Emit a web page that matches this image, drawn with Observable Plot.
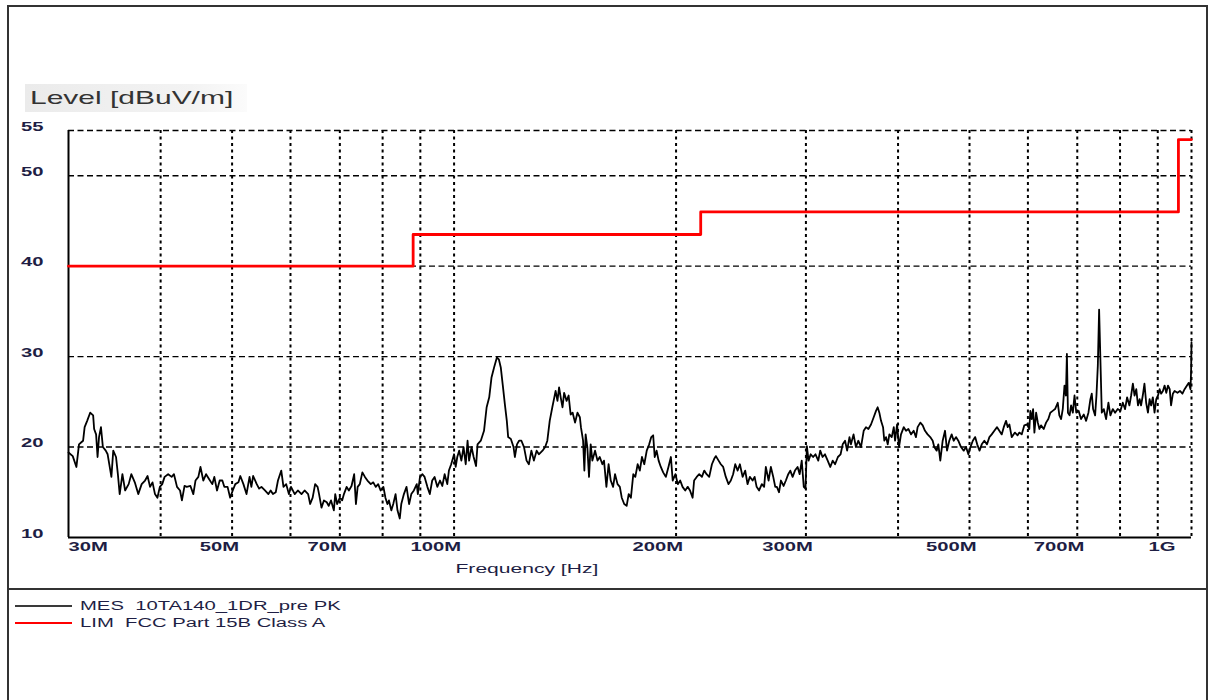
<!DOCTYPE html>
<html><head><meta charset="utf-8">
<script src="https://cdn.jsdelivr.net/npm/d3@7"></script>
<script src="https://cdn.jsdelivr.net/npm/@observablehq/plot@0.6"></script>
<style>
body{margin:0;background:#fff;font-family:"Liberation Sans",Arial,sans-serif;}
#wrap{position:relative;width:1210px;height:700px;overflow:hidden;background:#fff;}
#chart{position:absolute;left:0;top:0;}
.border{position:absolute;background:#333;}
.stretch{position:absolute;transform:scaleX(1.62);transform-origin:0 50%;white-space:pre;line-height:1;}
#title{left:25px;top:84px;width:222px;height:28px;position:absolute;background:linear-gradient(to right,#ebebeb,#f3f3f3 75%,#fbfbfb);}
</style></head><body>
<div id="wrap">
  <div id="title"></div>
  <div id="chart"></div>
  <div class="border" style="left:7px;top:5px;width:2px;height:695px"></div>
  <div class="border" style="left:7px;top:5px;width:1201px;height:1.5px"></div>
  <div class="border" style="left:1206px;top:5px;width:2px;height:695px"></div>
  <div class="border" style="left:7px;top:588px;width:1201px;height:2px"></div>
  <div id="legend"></div>
</div>
<script>
// ---- data ----
const yTicks = [10, 20, 30, 40, 50, 55];
const hGrid = [20, 30, 40, 50, 55];
const vGrid = [40, 50, 60, 70, 80, 90, 100, 200, 300, 400, 500, 600, 700, 800, 900, 1000];
const xTicks = [30, 50, 70, 100, 200, 300, 500, 700, 1000];
const xTickLabels = ["30M", "50M", "70M", "100M", "200M", "300M", "500M", "700M", "1G"];
const yTitle = "Level [dBuV/m]";
const xTitle = "Frequency [Hz]";
const legendLabels = ["MES  10TA140_1DR_pre PK", "LIM  FCC Part 15B Class A"];
const legendColors = ["#3a3a3a", "#ff0000"];

// limit line (MHz, dBuV/m)
const limFreq = [30, 88, 88, 216, 216, 960, 960, 1000];
const limLevel = [40, 40, 43.5, 43.5, 46, 46, 54, 54];

// measured trace [MHz, dBuV/m]
const measured = [
[30.0,19.4],[30.4,19.0],[30.75,17.8],[31.0,20.3],[31.2,20.5],[31.4,20.7],[31.55,22.2],[31.8,22.9],[32.1,23.8],[32.4,23.5],
[32.5,22.0],[32.7,21.4],[32.85,18.9],[33.0,21.1],[33.2,22.2],[33.4,20.0],[33.7,19.6],[33.9,19.2],[34.3,16.7],[34.5,19.6],
[34.8,18.9],[35.0,17.0],[35.2,14.8],[35.5,17.0],[35.8,15.2],[36.2,15.9],[36.5,17.0],[36.9,16.1],[37.3,14.8],[37.7,15.9],
[38.1,16.3],[38.4,16.8],[38.7,15.6],[39.0,16.1],[39.3,14.8],[39.6,14.4],[39.9,15.6],[40.2,15.9],[40.5,16.7],[40.95,17.0],
[41.4,16.7],[41.7,17.0],[42.1,15.6],[42.5,15.2],[42.75,14.1],[43.1,15.7],[43.4,15.6],[43.9,15.7],[44.3,14.8],[44.6,16.3],
[45.0,16.7],[45.3,17.8],[45.7,16.3],[46.1,17.0],[46.5,16.5],[47.0,15.9],[47.3,16.7],[47.7,15.2],[48.1,16.3],[48.5,16.3],
[48.8,15.6],[49.3,15.6],[49.7,14.4],[50.1,15.2],[50.5,15.9],[51.0,16.1],[51.3,16.8],[51.8,15.9],[52.3,14.8],[52.8,16.7],
[53.1,15.6],[53.4,16.8],[54.0,15.9],[54.4,15.4],[54.8,15.6],[55.4,15.2],[56.0,14.8],[56.4,15.2],[56.8,14.8],[57.3,15.0],
[57.7,16.3],[58.3,17.4],[58.7,15.6],[59.2,15.9],[59.7,14.8],[60.1,15.6],[60.8,14.8],[61.4,15.2],[62.1,14.8],[62.7,15.2],
[63.4,14.8],[63.8,13.7],[64.3,14.4],[64.8,15.9],[65.3,15.6],[65.6,14.8],[66.1,13.3],[66.6,14.1],[67.2,13.9],[67.6,13.5],
[68.1,14.1],[68.7,13.0],[69.0,14.8],[69.4,13.7],[70.0,14.4],[70.5,14.1],[70.9,14.8],[71.5,15.6],[72.0,15.2],[72.6,15.7],
[73.2,17.0],[73.6,13.7],[74.0,15.6],[74.5,15.9],[75.1,17.2],[75.7,16.7],[76.3,16.3],[77.1,15.9],[77.7,16.1],[78.3,15.6],
[78.9,15.9],[79.5,15.2],[80.2,15.6],[80.7,14.4],[81.2,13.7],[81.6,14.1],[82.2,13.0],[82.7,13.7],[83.3,14.8],[83.8,13.0],
[84.4,12.1],[84.8,13.7],[85.5,14.8],[86.2,15.6],[86.9,13.7],[87.5,14.8],[88.2,15.2],[89.0,15.9],[89.3,14.8],[89.9,16.7],
[90.6,17.0],[91.2,16.7],[92.0,15.6],[92.7,14.8],[93.4,16.3],[94.1,16.7],[94.9,15.6],[95.7,16.3],[96.4,15.7],[97.1,17.0],
[97.9,15.9],[98.4,17.4],[99.1,18.1],[100.0,19.2],[100.5,17.8],[101.0,18.9],[101.6,19.6],[102.3,18.5],[103.0,20.0],[103.7,18.1],
[104.3,20.7],[104.8,18.5],[105.6,20.0],[106.3,18.9],[107.1,17.9],[107.6,20.3],[108.7,20.7],[109.8,21.8],[110.7,24.4],[111.6,25.5],
[112.4,27.7],[113.3,28.8],[114.3,29.9],[115.0,29.7],[115.7,28.8],[116.4,26.9],[117.2,24.7],[117.9,22.9],[118.4,21.1],[119.4,20.9],
[120.4,20.0],[120.9,18.9],[121.7,20.3],[122.5,20.7],[123.4,20.7],[124.4,20.0],[125.4,18.5],[126.3,18.1],[127.3,19.6],[128.3,18.5],
[129.4,19.6],[130.3,19.2],[131.8,19.6],[132.9,20.0],[133.8,20.7],[134.8,22.9],[135.9,24.4],[136.6,25.3],[137.3,26.2],[138.1,25.1],
[138.8,26.6],[139.5,25.5],[140.3,24.4],[141.0,26.0],[142.1,25.1],[143.0,25.7],[143.9,23.6],[144.8,23.8],[145.9,22.7],[147.0,23.8],
[148.1,23.3],[148.6,22.2],[149.6,20.7],[150.2,17.4],[150.8,21.4],[151.6,20.0],[152.4,16.7],[153.2,20.3],[154.0,18.5],[155.3,19.6],
[156.5,18.5],[157.6,18.9],[158.9,18.1],[159.7,18.5],[160.9,15.6],[162.0,18.1],[163.1,16.3],[164.3,15.6],[165.3,17.0],[166.6,15.9],
[167.8,15.6],[168.8,14.4],[170.1,13.7],[171.4,13.5],[172.5,14.8],[173.7,14.4],[175.0,17.0],[176.1,16.7],[177.4,18.1],[178.6,17.4],
[179.8,18.9],[181.1,18.1],[182.5,19.6],[183.9,20.3],[185.1,21.1],[186.2,21.3],[187.1,18.9],[188.2,19.6],[189.4,18.5],[190.7,17.8],
[192.1,17.2],[193.7,16.7],[195.3,17.8],[196.8,18.9],[197.9,16.3],[199.6,17.0],[201.1,15.9],[202.6,16.3],[204.1,15.6],[205.8,15.2],
[207.4,15.6],[208.9,15.2],[210.6,14.4],[211.6,16.3],[213.3,16.7],[215.0,17.0],[216.8,16.7],[218.4,17.4],[220.0,17.0],[221.8,16.7],
[223.7,18.1],[225.3,18.7],[226.5,19.0],[228.4,18.5],[230.0,18.1],[231.7,17.8],[233.6,16.7],[235.6,15.9],[237.3,16.3],[239.0,17.0],
[240.6,18.1],[242.4,17.4],[244.1,18.1],[246.2,16.7],[248.2,17.4],[250.0,15.9],[251.8,16.7],[254.0,16.3],[255.6,16.7],[257.2,15.6],
[259.2,15.2],[261.4,15.9],[263.3,15.6],[264.7,17.8],[267.0,16.3],[268.9,17.8],[270.9,16.7],[272.6,15.6],[274.0,15.6],[275.8,15.0],
[277.5,16.3],[279.8,15.7],[281.8,16.3],[283.9,17.0],[285.7,17.4],[287.8,16.7],[289.9,17.4],[292.3,17.8],[294.2,17.0],[296.1,18.5],
[298.0,15.6],[299.6,15.4],[300.9,20.1],[302.5,18.5],[304.5,19.2],[306.8,18.9],[309.1,19.2],[311.8,18.5],[313.7,19.6],[316.0,18.9],
[318.4,19.2],[321.1,18.5],[323.7,17.8],[326.2,18.5],[328.6,18.1],[331.5,18.9],[334.3,19.2],[336.5,20.3],[339.0,20.7],[341.2,19.6],
[343.7,21.1],[345.3,20.3],[348.1,21.4],[350.7,20.0],[353.3,20.7],[356.3,20.0],[359.3,21.8],[361.9,22.2],[364.6,22.0],[367.6,22.5],
[370.7,23.3],[373.4,24.0],[375.3,24.4],[377.3,23.8],[379.3,22.9],[381.7,22.2],[383.2,20.7],[385.3,21.1],[387.3,20.3],[389.3,21.4],
[392.2,21.1],[394.7,22.2],[396.3,20.7],[398.8,22.5],[401.2,20.0],[403.7,21.4],[407.2,22.2],[410.1,21.8],[413.1,22.0],[416.5,21.4],
[420.0,21.8],[423.0,21.1],[425.2,22.2],[428.8,22.7],[432.0,22.4],[435.1,21.8],[438.7,21.4],[442.3,21.1],[445.7,20.7],[447.9,20.0],
[451.3,19.6],[453.6,20.3],[456.4,18.5],[459.8,20.7],[463.2,21.8],[466.1,19.6],[469.4,20.7],[472.9,21.4],[475.9,20.7],[479.3,21.1],
[482.8,20.7],[486.9,20.0],[491.0,19.6],[494.6,20.0],[498.2,19.2],[501.4,20.0],[505.2,20.7],[508.9,21.1],[512.1,20.3],[515.9,19.6],
[519.5,20.3],[523.7,20.7],[528.1,20.3],[532.0,21.1],[535.9,21.4],[540.3,21.8],[544.9,22.2],[548.8,21.8],[552.9,21.4],[556.4,22.2],
[560.4,22.9],[563.4,22.2],[566.3,22.5],[570.4,21.1],[576.2,21.6],[581.0,21.3],[584.2,21.6],[588.5,21.4],[593.3,22.4],[598.3,22.5],
[602.7,22.0],[604.6,24.0],[607.2,23.1],[609.8,24.2],[612.3,21.6],[615.6,23.8],[618.9,22.7],[622.0,22.0],[625.1,22.4],[630.4,22.0],
[635.0,22.7],[639.5,23.1],[643.5,23.8],[648.3,24.0],[653.1,24.2],[658.6,24.9],[661.9,23.5],[665.5,23.1],[669.0,24.2],[672.6,26.8],
[675.6,25.7],[677.7,30.3],[679.9,23.8],[683.4,23.5],[686.6,24.6],[690.4,23.8],[694.0,25.7],[697.8,23.8],[703.0,24.0],[708.3,23.1],
[714.4,23.6],[719.6,22.9],[724.8,23.8],[729.3,25.3],[732.4,25.9],[735.5,24.2],[740.1,23.5],[743.2,25.7],[746.4,29.0],[749.4,35.2],
[752.4,29.7],[755.7,23.8],[760.4,24.2],[765.9,23.1],[771.5,24.9],[776.3,23.5],[782.1,24.2],[787.7,23.8],[794.3,24.2],[800.9,24.0],
[806.9,24.9],[812.7,24.2],[817.8,25.5],[823.8,24.6],[828.2,25.7],[832.7,27.0],[837.1,25.7],[841.6,26.4],[846.1,24.6],[850.6,25.3],
[854.3,24.6],[858.9,25.7],[863.4,27.0],[868.0,24.9],[872.8,23.8],[877.4,25.3],[881.5,24.6],[886.3,25.5],[891.0,23.8],[895.8,25.3],
[900.7,25.7],[905.3,26.4],[909.5,25.9],[914.6,26.2],[919.4,26.8],[924.3,26.0],[929.3,26.8],[934.2,26.4],[938.2,24.6],[943.5,25.9],
[948.6,26.2],[957.1,26.0],[964.6,26.2],[972.1,25.9],[978.7,26.4],[986.0,26.8],[991.5,27.1],[996.9,26.4],[998.9,28.6],[1000,31.6]
];

// ---- chart ----
const textColor = "#1e1e44";
const STRETCH = 1.62;
const limit = limFreq.map((f, i) => ({f, v: limLevel[i]}));
const xTickData = xTicks.map((v, i) => ({v, label: xTickLabels[i]}));
const last = xTickData.length - 1;
const tickStyle = {frameAnchor: "bottom", lineAnchor: "middle", dy: 13, fontSize: 12.5, fontWeight: "bold", fill: textColor};

const chart = Plot.plot({
  width: 1210, height: 700,
  marginLeft: 68, marginRight: 19, marginTop: 130, marginBottom: 163,
  style: {fontFamily: '"Liberation Sans", Arial, sans-serif', background: "transparent", overflow: "visible"},
  x: {type: "log", domain: [30, 1000], axis: null},
  y: {domain: [10, 55], axis: null},
  marks: [
    Plot.ruleY(hGrid, {stroke: "#000", strokeWidth: 1.4, strokeDasharray: "6,3.5"}),
    Plot.ruleX(vGrid, {stroke: "#000", strokeWidth: 2, strokeDasharray: "3,3.5"}),
    Plot.ruleX([30], {stroke: "#000", strokeWidth: 2}),
    Plot.ruleY([10], {stroke: "#000", strokeWidth: 2}),
    Plot.line(limit, {x: "f", y: "v", stroke: "#ff0000", strokeWidth: 2.8}),
    Plot.line(measured, {x: d => d[0], y: d => d[1], stroke: "#000", strokeWidth: 1.8}),
    Plot.text(yTicks, {y: d => d, text: d => String(d), frameAnchor: "left", textAnchor: "end", dx: -25, fontSize: 12.5, fontWeight: "bold", fill: textColor}),
    Plot.text(xTickData.filter((d, i) => i === 0), {x: "v", text: "label", textAnchor: "start", ...tickStyle}),
    Plot.text(xTickData.filter((d, i) => i > 0 && i < last), {x: "v", text: "label", textAnchor: "end", dx: 7, ...tickStyle}),
    Plot.text(xTickData.filter((d, i) => i === last), {x: "v", text: "label", textAnchor: "end", dx: -16, ...tickStyle}),
    Plot.text([xTitle], {text: d => d, frameAnchor: "bottom", textAnchor: "start", lineAnchor: "middle", dx: -174.5, dy: 35, fontSize: 13, fill: textColor})
  ]
});

// horizontal stretch of the text, as in the reference rendering
chart.querySelectorAll("text").forEach(t => {
  const x = t.getAttribute("x"), y = t.getAttribute("y");
  let tr = t.getAttribute("transform") || "";
  if (x != null || y != null) {
    tr += ` translate(${+x || 0},${+y || 0})`;
    t.removeAttribute("x"); t.removeAttribute("y");
  }
  t.setAttribute("transform", `${tr} scale(${STRETCH},1)`);
});
document.getElementById("chart").appendChild(chart);

// title
const title = document.createElement("div");
title.className = "stretch";
title.textContent = yTitle;
Object.assign(title.style, {left: "30px", top: "89px", fontSize: "18.5px", color: "#333"});
document.getElementById("wrap").appendChild(title);

// legend
const legend = document.getElementById("legend");
legendLabels.forEach((lab, i) => {
  const cy = 606 + i * 17;
  const ln = document.createElement("div");
  Object.assign(ln.style, {position: "absolute", left: "15px", width: "57px", top: (cy - (i ? 1.25 : 0.75)) + "px",
    height: (i ? 2.5 : 1.5) + "px", background: legendColors[i]});
  legend.appendChild(ln);
  const tx = document.createElement("div");
  tx.className = "stretch";
  tx.textContent = lab;
  Object.assign(tx.style, {left: "80px", top: (cy - 6) + "px", fontSize: "12.5px", color: textColor});
  legend.appendChild(tx);
});
</script>
</body></html>
